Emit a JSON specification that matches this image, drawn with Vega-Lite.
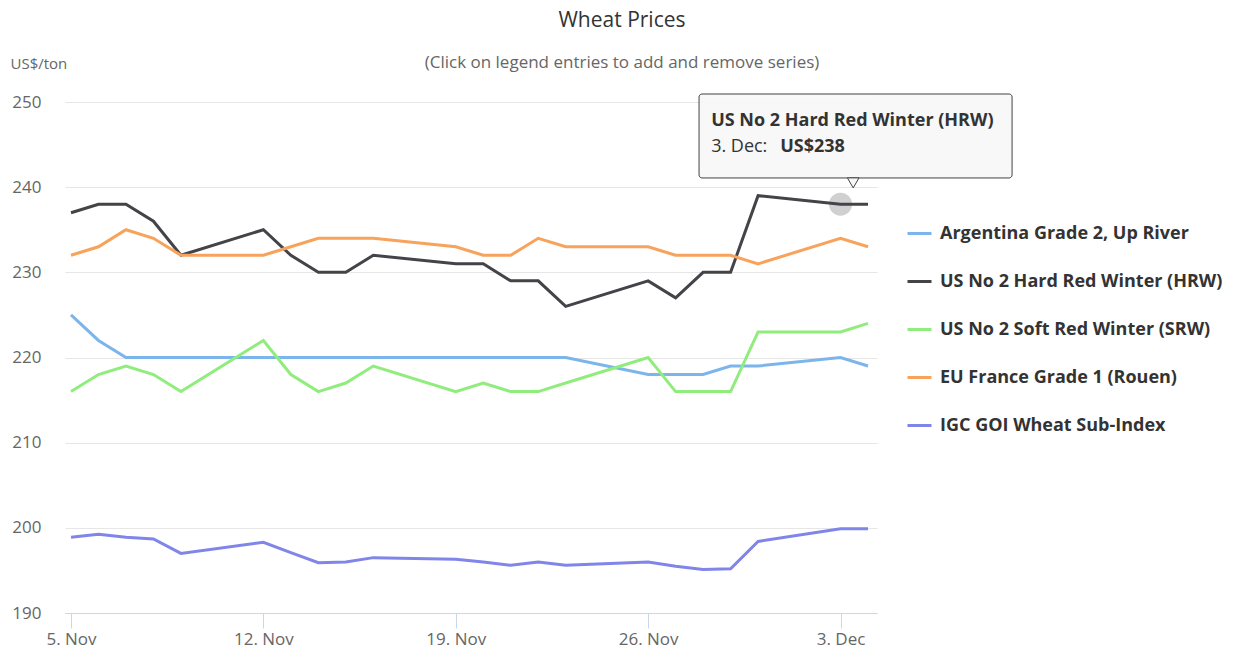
{
  "$schema": "https://vega.github.io/schema/vega-lite/v6.json",
  "width": 812,
  "height": 511,
  "autosize": {"type": "none"},
  "padding": {"left": 65, "top": 102, "right": 366, "bottom": 39},
  "background": "white",
  "title": {
    "text": "Wheat Prices",
    "subtitle": "(Click on legend entries to add and remove series)",
    "anchor": "middle",
    "frame": "group",
    "dx": 151,
    "offset": -15,
    "subtitlePadding": 24,
    "font": "Open Sans",
    "fontSize": 21,
    "fontWeight": "normal",
    "color": "#333333",
    "subtitleFont": "Open Sans",
    "subtitleFontSize": 17,
    "subtitleColor": "#666666"
  },
  "datasets": {
    "prices": [
      {"date": "2018-11-05", "series": "Argentina Grade 2, Up River", "price": 225},
      {"date": "2018-11-06", "series": "Argentina Grade 2, Up River", "price": 222},
      {"date": "2018-11-07", "series": "Argentina Grade 2, Up River", "price": 220},
      {"date": "2018-11-08", "series": "Argentina Grade 2, Up River", "price": 220},
      {"date": "2018-11-09", "series": "Argentina Grade 2, Up River", "price": 220},
      {"date": "2018-11-12", "series": "Argentina Grade 2, Up River", "price": 220},
      {"date": "2018-11-13", "series": "Argentina Grade 2, Up River", "price": 220},
      {"date": "2018-11-14", "series": "Argentina Grade 2, Up River", "price": 220},
      {"date": "2018-11-15", "series": "Argentina Grade 2, Up River", "price": 220},
      {"date": "2018-11-16", "series": "Argentina Grade 2, Up River", "price": 220},
      {"date": "2018-11-19", "series": "Argentina Grade 2, Up River", "price": 220},
      {"date": "2018-11-20", "series": "Argentina Grade 2, Up River", "price": 220},
      {"date": "2018-11-21", "series": "Argentina Grade 2, Up River", "price": 220},
      {"date": "2018-11-22", "series": "Argentina Grade 2, Up River", "price": 220},
      {"date": "2018-11-23", "series": "Argentina Grade 2, Up River", "price": 220},
      {"date": "2018-11-26", "series": "Argentina Grade 2, Up River", "price": 218},
      {"date": "2018-11-27", "series": "Argentina Grade 2, Up River", "price": 218},
      {"date": "2018-11-28", "series": "Argentina Grade 2, Up River", "price": 218},
      {"date": "2018-11-29", "series": "Argentina Grade 2, Up River", "price": 219},
      {"date": "2018-11-30", "series": "Argentina Grade 2, Up River", "price": 219},
      {"date": "2018-12-03", "series": "Argentina Grade 2, Up River", "price": 220},
      {"date": "2018-12-04", "series": "Argentina Grade 2, Up River", "price": 219},

      {"date": "2018-11-05", "series": "US No 2 Hard Red Winter (HRW)", "price": 237},
      {"date": "2018-11-06", "series": "US No 2 Hard Red Winter (HRW)", "price": 238},
      {"date": "2018-11-07", "series": "US No 2 Hard Red Winter (HRW)", "price": 238},
      {"date": "2018-11-08", "series": "US No 2 Hard Red Winter (HRW)", "price": 236},
      {"date": "2018-11-09", "series": "US No 2 Hard Red Winter (HRW)", "price": 232},
      {"date": "2018-11-12", "series": "US No 2 Hard Red Winter (HRW)", "price": 235},
      {"date": "2018-11-13", "series": "US No 2 Hard Red Winter (HRW)", "price": 232},
      {"date": "2018-11-14", "series": "US No 2 Hard Red Winter (HRW)", "price": 230},
      {"date": "2018-11-15", "series": "US No 2 Hard Red Winter (HRW)", "price": 230},
      {"date": "2018-11-16", "series": "US No 2 Hard Red Winter (HRW)", "price": 232},
      {"date": "2018-11-19", "series": "US No 2 Hard Red Winter (HRW)", "price": 231},
      {"date": "2018-11-20", "series": "US No 2 Hard Red Winter (HRW)", "price": 231},
      {"date": "2018-11-21", "series": "US No 2 Hard Red Winter (HRW)", "price": 229},
      {"date": "2018-11-22", "series": "US No 2 Hard Red Winter (HRW)", "price": 229},
      {"date": "2018-11-23", "series": "US No 2 Hard Red Winter (HRW)", "price": 226},
      {"date": "2018-11-26", "series": "US No 2 Hard Red Winter (HRW)", "price": 229},
      {"date": "2018-11-27", "series": "US No 2 Hard Red Winter (HRW)", "price": 227},
      {"date": "2018-11-28", "series": "US No 2 Hard Red Winter (HRW)", "price": 230},
      {"date": "2018-11-29", "series": "US No 2 Hard Red Winter (HRW)", "price": 230},
      {"date": "2018-11-30", "series": "US No 2 Hard Red Winter (HRW)", "price": 239},
      {"date": "2018-12-03", "series": "US No 2 Hard Red Winter (HRW)", "price": 238},
      {"date": "2018-12-04", "series": "US No 2 Hard Red Winter (HRW)", "price": 238},

      {"date": "2018-11-05", "series": "US No 2 Soft Red Winter (SRW)", "price": 216},
      {"date": "2018-11-06", "series": "US No 2 Soft Red Winter (SRW)", "price": 218},
      {"date": "2018-11-07", "series": "US No 2 Soft Red Winter (SRW)", "price": 219},
      {"date": "2018-11-08", "series": "US No 2 Soft Red Winter (SRW)", "price": 218},
      {"date": "2018-11-09", "series": "US No 2 Soft Red Winter (SRW)", "price": 216},
      {"date": "2018-11-12", "series": "US No 2 Soft Red Winter (SRW)", "price": 222},
      {"date": "2018-11-13", "series": "US No 2 Soft Red Winter (SRW)", "price": 218},
      {"date": "2018-11-14", "series": "US No 2 Soft Red Winter (SRW)", "price": 216},
      {"date": "2018-11-15", "series": "US No 2 Soft Red Winter (SRW)", "price": 217},
      {"date": "2018-11-16", "series": "US No 2 Soft Red Winter (SRW)", "price": 219},
      {"date": "2018-11-19", "series": "US No 2 Soft Red Winter (SRW)", "price": 216},
      {"date": "2018-11-20", "series": "US No 2 Soft Red Winter (SRW)", "price": 217},
      {"date": "2018-11-21", "series": "US No 2 Soft Red Winter (SRW)", "price": 216},
      {"date": "2018-11-22", "series": "US No 2 Soft Red Winter (SRW)", "price": 216},
      {"date": "2018-11-23", "series": "US No 2 Soft Red Winter (SRW)", "price": 217},
      {"date": "2018-11-26", "series": "US No 2 Soft Red Winter (SRW)", "price": 220},
      {"date": "2018-11-27", "series": "US No 2 Soft Red Winter (SRW)", "price": 216},
      {"date": "2018-11-28", "series": "US No 2 Soft Red Winter (SRW)", "price": 216},
      {"date": "2018-11-29", "series": "US No 2 Soft Red Winter (SRW)", "price": 216},
      {"date": "2018-11-30", "series": "US No 2 Soft Red Winter (SRW)", "price": 223},
      {"date": "2018-12-03", "series": "US No 2 Soft Red Winter (SRW)", "price": 223},
      {"date": "2018-12-04", "series": "US No 2 Soft Red Winter (SRW)", "price": 224},

      {"date": "2018-11-05", "series": "EU France Grade 1 (Rouen)", "price": 232},
      {"date": "2018-11-06", "series": "EU France Grade 1 (Rouen)", "price": 233},
      {"date": "2018-11-07", "series": "EU France Grade 1 (Rouen)", "price": 235},
      {"date": "2018-11-08", "series": "EU France Grade 1 (Rouen)", "price": 234},
      {"date": "2018-11-09", "series": "EU France Grade 1 (Rouen)", "price": 232},
      {"date": "2018-11-12", "series": "EU France Grade 1 (Rouen)", "price": 232},
      {"date": "2018-11-13", "series": "EU France Grade 1 (Rouen)", "price": 233},
      {"date": "2018-11-14", "series": "EU France Grade 1 (Rouen)", "price": 234},
      {"date": "2018-11-15", "series": "EU France Grade 1 (Rouen)", "price": 234},
      {"date": "2018-11-16", "series": "EU France Grade 1 (Rouen)", "price": 234},
      {"date": "2018-11-19", "series": "EU France Grade 1 (Rouen)", "price": 233},
      {"date": "2018-11-20", "series": "EU France Grade 1 (Rouen)", "price": 232},
      {"date": "2018-11-21", "series": "EU France Grade 1 (Rouen)", "price": 232},
      {"date": "2018-11-22", "series": "EU France Grade 1 (Rouen)", "price": 234},
      {"date": "2018-11-23", "series": "EU France Grade 1 (Rouen)", "price": 233},
      {"date": "2018-11-26", "series": "EU France Grade 1 (Rouen)", "price": 233},
      {"date": "2018-11-27", "series": "EU France Grade 1 (Rouen)", "price": 232},
      {"date": "2018-11-28", "series": "EU France Grade 1 (Rouen)", "price": 232},
      {"date": "2018-11-29", "series": "EU France Grade 1 (Rouen)", "price": 232},
      {"date": "2018-11-30", "series": "EU France Grade 1 (Rouen)", "price": 231},
      {"date": "2018-12-03", "series": "EU France Grade 1 (Rouen)", "price": 234},
      {"date": "2018-12-04", "series": "EU France Grade 1 (Rouen)", "price": 233},

      {"date": "2018-11-05", "series": "IGC GOI Wheat Sub-Index", "price": 198.9},
      {"date": "2018-11-06", "series": "IGC GOI Wheat Sub-Index", "price": 199.25},
      {"date": "2018-11-07", "series": "IGC GOI Wheat Sub-Index", "price": 198.9},
      {"date": "2018-11-08", "series": "IGC GOI Wheat Sub-Index", "price": 198.7},
      {"date": "2018-11-09", "series": "IGC GOI Wheat Sub-Index", "price": 197.0},
      {"date": "2018-11-12", "series": "IGC GOI Wheat Sub-Index", "price": 198.3},
      {"date": "2018-11-13", "series": "IGC GOI Wheat Sub-Index", "price": 197.1},
      {"date": "2018-11-14", "series": "IGC GOI Wheat Sub-Index", "price": 195.9},
      {"date": "2018-11-15", "series": "IGC GOI Wheat Sub-Index", "price": 196.0},
      {"date": "2018-11-16", "series": "IGC GOI Wheat Sub-Index", "price": 196.5},
      {"date": "2018-11-19", "series": "IGC GOI Wheat Sub-Index", "price": 196.3},
      {"date": "2018-11-20", "series": "IGC GOI Wheat Sub-Index", "price": 196.0},
      {"date": "2018-11-21", "series": "IGC GOI Wheat Sub-Index", "price": 195.6},
      {"date": "2018-11-22", "series": "IGC GOI Wheat Sub-Index", "price": 196.0},
      {"date": "2018-11-23", "series": "IGC GOI Wheat Sub-Index", "price": 195.6},
      {"date": "2018-11-26", "series": "IGC GOI Wheat Sub-Index", "price": 196.0},
      {"date": "2018-11-27", "series": "IGC GOI Wheat Sub-Index", "price": 195.5},
      {"date": "2018-11-28", "series": "IGC GOI Wheat Sub-Index", "price": 195.1},
      {"date": "2018-11-29", "series": "IGC GOI Wheat Sub-Index", "price": 195.2},
      {"date": "2018-11-30", "series": "IGC GOI Wheat Sub-Index", "price": 198.4},
      {"date": "2018-12-03", "series": "IGC GOI Wheat Sub-Index", "price": 199.9},
      {"date": "2018-12-04", "series": "IGC GOI Wheat Sub-Index", "price": 199.9}
    ],
    "tipbox": [
      {"x1": "2018-11-27T20:27:00Z", "x2": "2018-12-09T05:48:00Z", "y1": 250.94, "y2": 241.08}
    ],
    "tippointer": [
      {"date": "2018-12-03T11:04:00Z", "price": 240.5}
    ],
    "tipbold": [
      {"date": "2018-11-28T07:00:00Z", "price": 247.8, "label": "US No 2 Hard Red Winter (HRW)"},
      {"date": "2018-11-30T19:16:00Z", "price": 244.7, "label": "US$238"}
    ],
    "tipnormal": [
      {"date": "2018-11-28T07:00:00Z", "price": 244.7, "label": "3. Dec:"}
    ],
    "halo": [
      {"date": "2018-12-03", "price": 238}
    ]
  },
  "layer": [
    {
      "data": {"name": "halo"},
      "mark": {"type": "point", "filled": true, "size": 530, "color": "#434348", "opacity": 0.25},
      "encoding": {
        "x": {"field": "date", "type": "temporal"},
        "y": {"field": "price", "type": "quantitative"}
      }
    },
    {
      "data": {"name": "prices"},
      "mark": {"type": "line", "strokeWidth": 3},
      "encoding": {
        "x": {
          "field": "date",
          "type": "temporal",
          "scale": {
            "type": "utc",
            "domain": [
              {"year": 2018, "month": 11, "date": 4, "hours": 18, "minutes": 46, "utc": true},
              {"year": 2018, "month": 12, "date": 4, "hours": 7, "minutes": 51, "utc": true}
            ]
          },
          "axis": {
            "title": null,
            "labelExpr": "utcFormat(datum.value, '%-d. %b')",
            "values": [
              {"year": 2018, "month": 11, "date": 5, "utc": true},
              {"year": 2018, "month": 11, "date": 12, "utc": true},
              {"year": 2018, "month": 11, "date": 19, "utc": true},
              {"year": 2018, "month": 11, "date": 26, "utc": true},
              {"year": 2018, "month": 12, "date": 3, "utc": true}
            ],
            "grid": false,
            "domainColor": "#ccd6eb",
            "tickColor": "#ccd6eb",
            "tickSize": 15,
            "labelPadding": 3,
            "labelFont": "Open Sans",
            "labelFontSize": 17,
            "labelColor": "#666666"
          }
        },
        "y": {
          "field": "price",
          "type": "quantitative",
          "scale": {"domain": [190, 250], "nice": false, "zero": false},
          "axis": {
            "values": [190, 200, 210, 220, 230, 240, 250],
            "title": "US$/ton",
            "titleAngle": 0,
            "titleAlign": "left",
            "titleBaseline": "middle",
            "titleX": -55,
            "titleY": -39,
            "titleFont": "Open Sans",
            "titleFontSize": 15,
            "titleFontWeight": "normal",
            "titleColor": "#666666",
            "domain": false,
            "ticks": false,
            "grid": true,
            "gridColor": "#e6e6e6",
            "gridWidth": 1,
            "labelPadding": 24,
            "labelFont": "Open Sans",
            "labelFontSize": 17,
            "labelColor": "#666666"
          }
        },
        "color": {
          "field": "series",
          "type": "nominal",
          "scale": {
            "domain": [
              "Argentina Grade 2, Up River",
              "US No 2 Hard Red Winter (HRW)",
              "US No 2 Soft Red Winter (SRW)",
              "EU France Grade 1 (Rouen)",
              "IGC GOI Wheat Sub-Index"
            ],
            "range": ["#7cb5ec", "#434348", "#90ed7d", "#f7a35c", "#8085e9"]
          },
          "legend": {
            "title": null,
            "orient": "none",
            "legendX": 841,
            "legendY": 118,
            "symbolType": "stroke",
            "symbolSize": 576,
            "symbolStrokeWidth": 3,
            "labelFont": "Open Sans",
            "labelFontSize": 18,
            "labelFontWeight": "bold",
            "labelColor": "#333333",
            "labelOffset": 7,
            "labelLimit": 400,
            "rowPadding": 25
          }
        }
      }
    },
    {
      "data": {"name": "tipbox"},
      "mark": {"type": "rect", "fill": "#f7f7f7", "fillOpacity": 0.92, "stroke": "#434348", "strokeWidth": 1, "cornerRadius": 3},
      "encoding": {
        "x": {"field": "x1", "type": "temporal"},
        "x2": {"field": "x2"},
        "y": {"field": "y1", "type": "quantitative"},
        "y2": {"field": "y2"}
      }
    },
    {
      "data": {"name": "tippointer"},
      "mark": {"type": "point", "shape": "triangle-down", "filled": true, "size": 134, "fill": "#f7f7f7", "stroke": "#434348", "strokeWidth": 1, "opacity": 1},
      "encoding": {
        "x": {"field": "date", "type": "temporal"},
        "y": {"field": "price", "type": "quantitative"}
      }
    },
    {
      "data": {"name": "tipbold"},
      "mark": {"type": "text", "align": "left", "baseline": "middle", "font": "Open Sans", "fontSize": 18, "fontWeight": "bold", "color": "#333333"},
      "encoding": {
        "x": {"field": "date", "type": "temporal"},
        "y": {"field": "price", "type": "quantitative"},
        "text": {"field": "label"}
      }
    },
    {
      "data": {"name": "tipnormal"},
      "mark": {"type": "text", "align": "left", "baseline": "middle", "font": "Open Sans", "fontSize": 18, "fontWeight": "normal", "color": "#333333"},
      "encoding": {
        "x": {"field": "date", "type": "temporal"},
        "y": {"field": "price", "type": "quantitative"},
        "text": {"field": "label"}
      }
    }
  ],
  "config": {
    "view": {"stroke": null},
    "font": "Open Sans"
  }
}
